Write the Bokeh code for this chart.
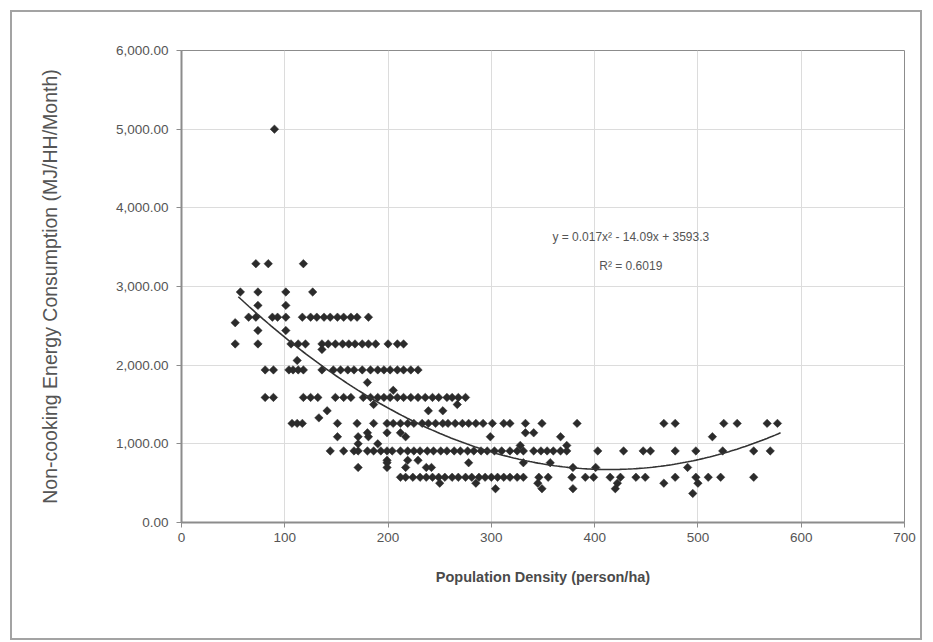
import numpy as np
from bokeh.plotting import figure
from bokeh.models import NumeralTickFormatter, Label, FixedTicker
from bokeh.embed import file_html
from bokeh.resources import INLINE

# ---- data: (density, consumption) grouped by consumption level ----
rows = {
    5000: [90],
    3290: [72, 84, 118],
    2930: [57, 74, 101, 127],
    2760: [74, 101],
    2610: [65, 72, 88, 93, 101, 117, 125, 131, 138, 144, 151, 157, 164, 170, 181],
    2540: [52],
    2440: [74, 101],
    2270: [52, 74, 106, 113, 120, 136, 142, 149, 156, 162, 168, 175, 181, 188, 200, 209, 215],
    2200: [136],
    2060: [112],
    1940: [81, 89, 104, 108, 113, 118, 136, 147, 154, 161, 167, 175, 183, 190, 196, 202, 209, 215, 222, 229],
    1780: [180],
    1680: [205],
    1590: [81, 89, 118, 125, 132, 149, 157, 164, 176, 183, 190, 196, 202, 209, 215, 222, 229, 236, 243,
           249, 257, 262, 268, 275],
    1500: [186, 267],
    1420: [141, 239, 253],
    1330: [133],
    1260: [107, 112, 117, 151, 170, 186, 199, 205, 212, 219, 225, 233, 239, 246, 253, 258, 265, 272, 278,
           285, 292, 301, 312, 318, 333, 349, 383, 467, 478, 525, 538, 567, 577],
    1140: [180, 199, 212, 333, 341],
    1090: [151, 171, 181, 217, 299, 367, 514],
    1000: [171, 190],
    980: [328, 373],
    910: [144, 157, 167, 171, 180, 186, 193, 199, 204, 212, 219, 225, 231, 238, 244, 251, 257, 264, 270,
          277, 283, 290, 296, 303, 310, 318, 325, 331, 341, 348, 354, 360, 367, 373, 403, 428, 447, 454,
          478, 498, 524, 554, 570],
    790: [199, 219, 229],
    760: [199, 278, 331, 357],
    700: [171, 199, 217, 237, 242, 379, 401, 490],
    575: [212, 217, 224, 231, 237, 243, 249, 255, 262, 268, 275, 281, 288, 294, 300, 306, 312, 318, 325,
          331, 346, 355, 378, 391, 399, 415, 425, 440, 449, 478, 498, 510, 522, 554],
    500: [250, 285, 345, 422, 467, 500],
    430: [304, 349, 379, 420],
    370: [495],
}
density = [x for yv, xs in rows.items() for x in xs]
consumption = [yv for yv, xs in rows.items() for x in xs]

# trendline coefficients as printed on the chart
coef_a, coef_b, coef_c = 0.017, -14.09, 3593.3
trend_x_range = [55, 580]
equation_text = "y = 0.017x\u00b2 - 14.09x + 3593.3"
r2_text = "R\u00b2 = 0.6019"

x_ticks = [0, 100, 200, 300, 400, 500, 600, 700]
y_ticks = [0, 1000, 2000, 3000, 4000, 5000, 6000]

FONT = "Liberation Sans"

p = figure(width=912, height=630, output_backend="svg", toolbar_location=None,
           x_range=(0, 700), y_range=(0, 6000),
           min_border_left=169, min_border_right=20, min_border_top=38, min_border_bottom=120,
           margin=(10, 0, 0, 10),
           styles={"border": "2px solid #a3a3a3"})
p.background_fill_color = "white"
p.border_fill_color = "white"
p.outline_line_color = "#8c8c8c"
p.outline_line_width = 1

for ax in (p.xaxis[0], p.yaxis[0]):
    ax.axis_line_color = "#8c8c8c"
    ax.axis_line_width = 2
    ax.major_tick_line_color = "#8c8c8c"
    ax.major_tick_out = 5
    ax.major_tick_in = 0
    ax.minor_tick_line_color = None
    ax.major_label_text_font = FONT
    ax.major_label_text_font_size = "13.5px"
    ax.major_label_text_color = "#555555"
    ax.axis_label_text_color = "#4a4a4a"
    ax.axis_label_text_font = FONT

p.xaxis.ticker = FixedTicker(ticks=x_ticks)
p.yaxis.ticker = FixedTicker(ticks=y_ticks)
p.yaxis.formatter = NumeralTickFormatter(format="0,0.00")
p.xaxis.axis_label = "Population Density (person/ha)"
p.xaxis.axis_label_text_font_size = "14.5px"
p.xaxis.axis_label_text_font_style = "bold"
p.xaxis.axis_label_standoff = 24
p.xaxis.major_label_standoff = 5
p.yaxis.axis_label = "Non-cooking Energy Consumption (MJ/HH/Month)"
p.yaxis.axis_label_text_font_size = "19.5px"
p.yaxis.axis_label_text_font_style = "normal"
p.yaxis.axis_label_text_color = "#555555"
p.yaxis.axis_label_standoff = 52
p.yaxis.major_label_standoff = 8

p.xgrid.grid_line_color = "#dcdcdc"
p.ygrid.grid_line_color = "#dcdcdc"
p.xgrid.grid_line_width = 1
p.ygrid.grid_line_width = 1

p.scatter(density, consumption, marker="square", angle=np.pi / 4, size=6,
          fill_color="#2b2b2b", line_color="#2b2b2b", line_width=0.5)

tx = np.linspace(trend_x_range[0], trend_x_range[1], 200)
ty = coef_a * tx ** 2 + coef_b * tx + coef_c
p.line(tx, ty, line_color="#333333", line_width=1.6)

p.add_layout(Label(x=435, y=3635, text=equation_text, text_font=FONT, text_font_size="12px",
                   text_color="#555555", text_align="center", text_baseline="middle"))
p.add_layout(Label(x=435, y=3260, text=r2_text, text_font=FONT, text_font_size="12px",
                   text_color="#555555", text_align="center", text_baseline="middle"))

open("out.html", "w").write(file_html(p, INLINE))
